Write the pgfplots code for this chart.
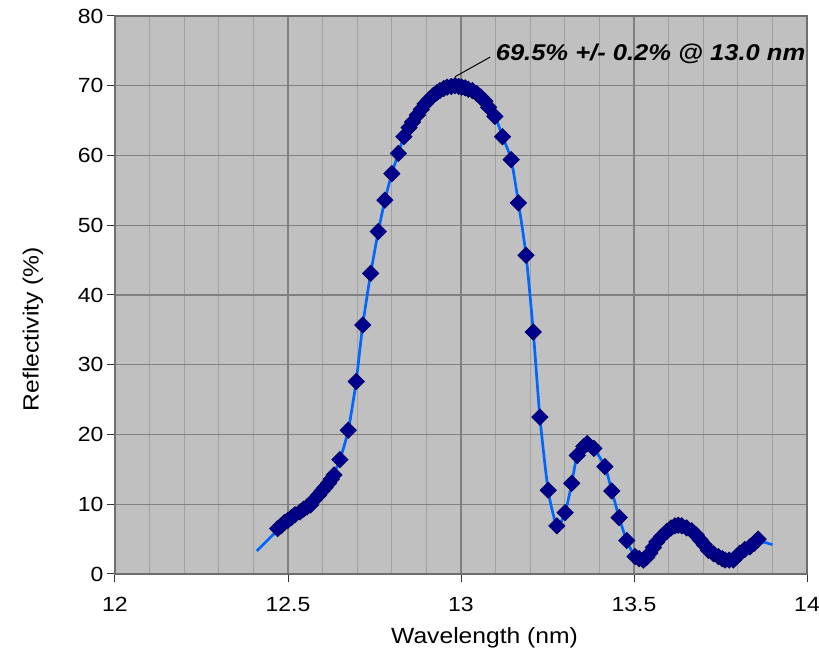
\documentclass[border=0pt]{standalone}
\usepackage{pgfplots}
\pgfplotsset{compat=1.18}
\usepackage{fontspec}
\setmainfont[FakeStretch=1.12]{Liberation Sans}
\definecolor{bgGray}{RGB}{192,192,192}
\definecolor{minGrid}{RGB}{160,160,160}
\definecolor{majGrid}{RGB}{128,128,128}
\definecolor{axGray}{RGB}{110,110,110}
\definecolor{lineBlue}{RGB}{0,102,255}
\definecolor{markNavy}{RGB}{0,0,140}

\pgfplotstableread{
x y
12.470 6.5
12.480 6.9
12.490 7.4
12.500 7.7
12.510 8.1
12.520 8.5
12.535 8.9
12.545 9.3
12.555 9.6
12.565 9.9
12.575 10.6
12.588 11.3
12.598 11.9
12.607 12.4
12.617 13.0
12.625 13.6
12.633 14.2
12.650 16.4
12.674 20.6
12.697 27.6
12.716 35.7
12.739 43.1
12.761 49.1
12.780 53.6
12.800 57.4
12.819 60.3
12.835 62.7
12.850 64.0
12.860 64.8
12.874 65.8
12.885 66.6
12.896 67.4
12.908 68.0
12.920 68.6
12.930 69.0
12.939 69.3
12.950 69.6
12.960 69.8
12.972 69.9
12.983 70.0
12.993 69.9
13.002 69.8
13.012 69.7
13.021 69.5
13.033 69.3
13.045 68.9
13.057 68.4
13.069 67.8
13.080 66.9
13.098 65.6
13.120 62.7
13.145 59.4
13.166 53.2
13.188 45.7
13.209 34.7
13.228 22.5
13.252 12.0
13.277 6.9
13.301 8.8
13.320 13.0
13.336 17.0
13.355 18.3
13.365 18.7
13.384 18.0
13.416 15.4
13.436 11.9
13.457 8.1
13.479 4.8
13.503 2.5
13.515 2.2
13.527 2.0
13.537 2.4
13.546 3.0
13.556 3.8
13.566 4.6
13.580 5.4
13.595 6.1
13.607 6.6
13.618 6.9
13.628 7.0
13.638 6.9
13.652 6.6
13.667 6.2
13.680 5.6
13.691 4.9
13.703 4.2
13.715 3.4
13.730 2.9
13.744 2.5
13.755 2.2
13.763 2.0
13.775 2.0
13.787 2.0
13.797 2.5
13.806 3.0
13.820 3.5
13.835 3.9
13.847 4.4
13.859 5.0
}\measured

\pgfplotstableread{
x y
12.41 3.3
12.45 5.3
12.50 7.6
12.55 9.4
12.60 12.0
12.63 14.2
12.65 16.4
12.674 20.6
12.697 27.6
12.716 35.7
12.739 43.1
12.761 49.1
12.780 53.6
12.800 57.4
12.819 60.3
12.835 62.7
12.860 64.8
12.896 67.4
12.939 69.3
12.983 70.0
13.021 69.5
13.057 68.4
13.098 65.6
13.120 62.7
13.145 59.4
13.166 53.2
13.188 45.7
13.209 34.7
13.228 22.5
13.252 12.0
13.277 6.9
13.301 8.8
13.320 13.0
13.336 17.0
13.365 18.7
13.384 18.0
13.416 15.4
13.436 11.9
13.457 8.1
13.479 4.8
13.503 2.5
13.527 2.0
13.546 3.0
13.566 4.6
13.595 6.1
13.628 7.0
13.667 6.2
13.691 4.9
13.715 3.4
13.744 2.5
13.775 2.0
13.806 3.0
13.835 3.9
13.859 4.6
13.880 4.5
13.900 4.2
}\fitline

\begin{document}
\begin{tikzpicture}
\begin{axis}[
  scale only axis,
  width=692pt, height=558pt,
  xmin=12, xmax=14, ymin=0, ymax=80,
  xtick={12,12.5,13,13.5,14},
  xticklabels={12,12.5,13,13.5,14},
  ytick={0,10,20,30,40,50,60,70,80},
  minor x tick num=4,
  xmajorgrids, ymajorgrids, xminorgrids,
  major grid style={draw=majGrid, line width=1.3pt},
  minor grid style={draw=minGrid, line width=1pt},
  axis background/.style={fill=bgGray},
  axis line style={draw=axGray, line width=1.5pt},
  tick align=outside,
  tick pos=left,
  major tick length=8pt,
  minor tick length=0pt,
  tick style={draw=black!80, line width=1pt},
  /pgf/number format/assume math mode=true,
  ticklabel style={font=\fontsize{20.5}{24}\selectfont},
  xticklabel style={yshift=-12pt},
  xlabel={Wavelength (nm)},
  ylabel={Reflectivity (\%)},
  label style={font=\fontsize{22}{26}\selectfont},
  xlabel style={at={(axis description cs:0.534,-0.1147)}, anchor=center},
  ylabel style={at={(axis description cs:-0.1185,0.439)}, anchor=center, rotate=0},
  clip=false,
]
\addplot[color=lineBlue, line width=2.7pt, smooth, tension=0.4, no marks] table[x=x,y=y] {\fitline};
\addplot[only marks, mark=square*, mark size=5.8pt, mark options={rotate=45, fill=markNavy, draw=markNavy!70!black, line width=0.6pt}] table[x=x,y=y] {\measured};
\draw[black, line width=1pt] (axis cs:12.983,71.3) -- (axis cs:13.084,74.1);
\node[anchor=west, inner sep=0pt, font=\fontsize{22.8}{26}\selectfont\bfseries\itshape] at (axis cs:13.10,74.6) {69.5\% +/- 0.2\% @ 13.0 nm};
\end{axis}
\pgfresetboundingbox
\path[use as bounding box] (-115pt,-84pt) rectangle (704pt,574pt);
\end{tikzpicture}
\end{document}
